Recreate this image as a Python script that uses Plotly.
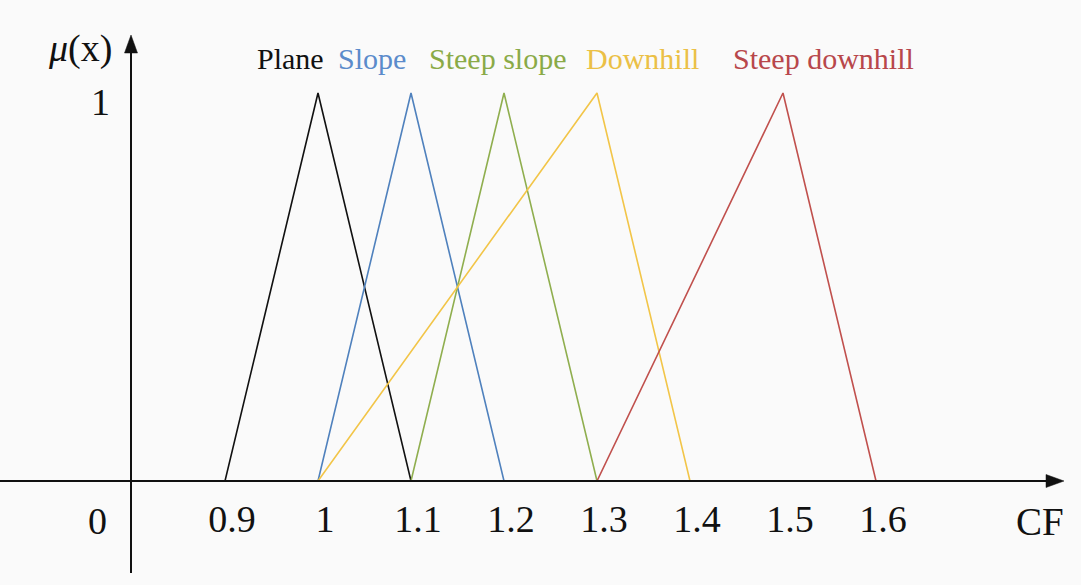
import plotly.graph_objects as go

# ---- data ----
categories = ["Plane", "Slope", "Steep slope", "Downhill", "Steep downhill"]
x_plane = [0.9, 1.0, 1.1]
x_slope = [1.0, 1.1, 1.2]
x_steep_slope = [1.1, 1.2, 1.3]
x_downhill = [1.0, 1.3, 1.4]
x_steep_downhill = [1.3, 1.5, 1.6]
membership = [0, 1, 0]
tick_values = [0.9, 1.0, 1.1, 1.2, 1.3, 1.4, 1.5, 1.6]
tick_labels = ["0.9", "1", "1.1", "1.2", "1.3", "1.4", "1.5", "1.6"]

series_x = [x_plane, x_slope, x_steep_slope, x_downhill, x_steep_downhill]
line_colors = ["#111111", "#4F81BD", "#8FAE4E", "#F2C548", "#C0504D"]
text_colors = ["#111111", "#5B8BCB", "#8AAA47", "#EBC046", "#B8474B"]

W, H = 1081, 585
AXIS_Y_PX = 481      # pixel row of the x-axis line
SCALE_X = 930.0      # px per unit of CF
X_AT_09 = 225.0      # px of CF=0.9
SCALE_Y = 388.0      # px per unit of mu

x0 = 0.9 - X_AT_09 / SCALE_X
x1 = x0 + W / SCALE_X
y1 = AXIS_Y_PX / SCALE_Y

def PX(px):
    return px / W

def PY(py):
    return (AXIS_Y_PX - py) / AXIS_Y_PX

SERIF = "Liberation Serif"

fig = go.Figure()
for name, xs, col in zip(categories, series_x, line_colors):
    fig.add_trace(go.Scatter(x=xs, y=membership, mode="lines", name=name,
                             line=dict(color=col, width=1.6), cliponaxis=False,
                             showlegend=False, hoverinfo="skip"))

shapes = []
# x axis line with arrow
shapes.append(dict(type="line", xref="paper", yref="paper",
                   x0=PX(0), x1=PX(1050), y0=PY(481), y1=PY(481),
                   line=dict(color="#111111", width=2)))
shapes.append(dict(type="path", xref="paper", yref="paper",
                   path=f"M {PX(1064)},{PY(481)} L {PX(1046)},{PY(474.5)} L {PX(1046)},{PY(487.5)} Z",
                   fillcolor="#111111", line=dict(color="#111111", width=0.5)))
# y axis line with arrow
shapes.append(dict(type="line", xref="paper", yref="paper",
                   x0=PX(131), x1=PX(131), y0=PY(573), y1=PY(48),
                   line=dict(color="#111111", width=2)))
shapes.append(dict(type="path", xref="paper", yref="paper",
                   path=f"M {PX(131)},{PY(35)} L {PX(124.5)},{PY(53)} L {PX(137.5)},{PY(53)} Z",
                   fillcolor="#111111", line=dict(color="#111111", width=0.5)))

annotations = []
label_px = [290, 372, 497, 642, 823]
for name, cx, col in zip(categories, label_px, text_colors):
    annotations.append(dict(text=name, xref="paper", yref="paper", x=PX(cx), y=PY(59),
                            xanchor="center", yanchor="middle", showarrow=False,
                            font=dict(family=SERIF, size=30, color=col)))
annotations.append(dict(text="<i>μ</i>(x)", xref="paper", yref="paper", x=PX(80), y=PY(48),
                        xanchor="center", yanchor="middle", showarrow=False,
                        font=dict(family=SERIF, size=38, color="#111111")))
annotations.append(dict(text="1", xref="paper", yref="paper", x=PX(100), y=PY(102),
                        xanchor="center", yanchor="middle", showarrow=False,
                        font=dict(family=SERIF, size=38, color="#111111")))
annotations.append(dict(text="0", xref="paper", yref="paper", x=PX(97), y=PY(521),
                        xanchor="center", yanchor="middle", showarrow=False,
                        font=dict(family=SERIF, size=38, color="#111111")))
annotations.append(dict(text="CF", xref="paper", yref="paper", x=PX(1040), y=PY(521),
                        xanchor="center", yanchor="middle", showarrow=False,
                        font=dict(family=SERIF, size=39, color="#111111")))

fig.update_layout(
    width=W, height=H,
    margin=dict(l=0, r=0, t=0, b=H - AXIS_Y_PX, pad=0),
    paper_bgcolor="#fafafa", plot_bgcolor="#fafafa",
    xaxis=dict(range=[x0, x1], showgrid=False, zeroline=False, showline=False,
               tickmode="array", tickvals=tick_values, ticktext=tick_labels,
               ticks="", ticklabelstandoff=12, ticklabelshift=7,
               tickfont=dict(family=SERIF, size=38, color="#111111")),
    yaxis=dict(range=[0, y1], showgrid=False, zeroline=False, showline=False,
               showticklabels=False, ticks=""),
    shapes=shapes, annotations=annotations,
)

fig.write_html("out.html", config={"displayModeBar": False},
               post_script="document.body.style.margin='0px';document.body.style.overflow='hidden';document.body.style.background='#fafafa';")
